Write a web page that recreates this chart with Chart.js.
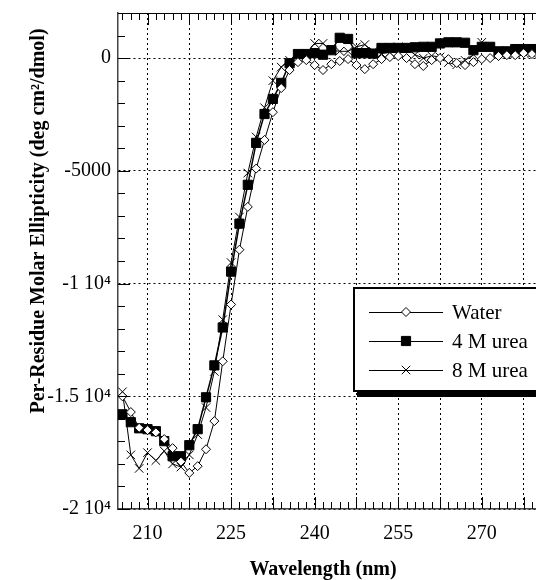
<!DOCTYPE html>
<html>
<head>
<meta charset="utf-8">
<script src="https://cdn.jsdelivr.net/npm/chart.js@4.4.0/dist/chart.umd.min.js"></script>
<style>
  html, body { margin: 0; padding: 0; background: #fff; overflow: hidden; }
  #wrap { position: absolute; left: 0; top: 0; width: 545px; height: 580px; }
</style>
</head>
<body>
<div id="wrap"><canvas id="cdChart" width="545" height="580"></canvas></div>
<script>
// CD spectra, per-residue molar ellipticity vs wavelength

const wavelengths = [
  205.5, 207, 208.5, 210, 211.5, 213, 214.5, 216, 217.5, 219,
  220.5, 222, 223.5, 225, 226.5, 228, 229.5, 231, 232.5, 234,
  235.5, 237, 238.5, 240, 241.5, 243, 244.5, 246, 247.5, 249,
  250.5, 252, 253.5, 255, 256.5, 258, 259.5, 261, 262.5, 264,
  265.5, 267, 268.5, 270, 271.5, 273, 274.5, 276, 277.5, 279
];

const waterVals = [
  -15000, -15700, -16400, -16500, -16600, -16900, -17300, -17900, -18400, -18100,
  -17350, -16100, -13450, -10930, -8500, -6600, -4900, -3630, -2400, -1330,
  -530, -180, -90, -310, -530, -270, -130, -45, -310, -490,
  -270, -45, 45, 90, 0, -270, -350, -90, 0, -45,
  -220, -310, -180, -45, 0, 90, 130, 130, 220, 180
];

const urea4Vals = [
  -15800, -16150, -16420, -16460, -16550, -16990, -17660, -17660, -17170, -16460,
  -15045, -13630, -11950, -9470, -7345, -5620, -3760, -2480, -1810, -1100,
  -230, 180, 180, 220, 150, 350, 900, 850, 220, 220,
  200, 450, 450, 450, 450, 480, 500, 500, 650, 700,
  700, 680, 350, 500, 500, 300, 300, 400, 400, 400
];

const urea8Vals = [
  -14800, -17600, -18200, -17500, -17850, -17430, -18000, -18140, -17600, -16700,
  -15500, -13900, -11600, -9070, -7050, -5100, -3500, -2200, -1000, -400,
  -100, 150, 200, 650, 650, 350, 300, 300, 500, 600,
  300, 200, 250, 500, 450, 150, 0, 100, 50, -200,
  -300, -100, 150, 700, 500, 300, 150, 200, 250, 200
];

const seriesNames = ['Water', '4 M urea', '8 M urea'];

const xGridValues = [210, 217.5, 225, 232.5, 240, 247.5, 255, 262.5, 270, 277.5];
const xTickLabels = [210, 225, 240, 255, 270];
const yGridValues = [-20000, -15000, -10000, -5000, 0];
const yTickLabels = ['-2 10\u2074', '-1.5 10\u2074', '-1 10\u2074', '-5000', '0'];

const xTitle = 'Wavelength (nm)';
const yTitle = 'Per-Residue Molar Ellipticity (deg cm\u00B2/dmol)';

const SERIF = "'Liberation Serif', 'Times New Roman', serif";

function toPoints(vals) {
  return wavelengths.map((w, i) => ({ x: w, y: vals[i] }));
}

function noScalePadding(s) {
  s.paddingTop = 0;
  s.paddingBottom = 0;
  s.paddingLeft = 0;
  s.paddingRight = 0;
}

// inward tick marks + top/right frame
const frameTicks = {
  id: 'frameTicks',
  afterDatasetsDraw(chart) {
    const { ctx, chartArea: a, scales: { x, y } } = chart;
    ctx.save();
    ctx.strokeStyle = '#000';
    ctx.lineWidth = 1;
    ctx.beginPath();
    ctx.moveTo(a.left, a.top + 0.5);
    ctx.lineTo(a.right, a.top + 0.5);
    ctx.moveTo(a.right - 0.5, a.top);
    ctx.lineTo(a.right - 0.5, a.bottom);
    // x ticks every 1.5 nm, major every 7.5
    for (let v = 205.5; v <= x.max; v += 1.5) {
      const px = Math.round(x.getPixelForValue(v)) + 0.5;
      const major = Math.abs(((v - 210) / 7.5) - Math.round((v - 210) / 7.5)) < 1e-6;
      const len = major ? 12 : 7;
      ctx.moveTo(px, a.bottom);
      ctx.lineTo(px, a.bottom - len);
      ctx.moveTo(px, a.top);
      ctx.lineTo(px, a.top + len);
    }
    // y ticks every 1000, major every 5000
    for (let v = -20000; v <= y.max; v += 1000) {
      const py = Math.round(y.getPixelForValue(v)) + 0.5;
      const len = v % 5000 === 0 ? 12 : 7;
      ctx.moveTo(a.left, py);
      ctx.lineTo(a.left + len, py);
    }
    ctx.stroke();
    ctx.restore();
  }
};

// boxed legend with drop shadow
const legendBox = {
  id: 'legendBox',
  afterDraw(chart) {
    const { ctx } = chart;
    const bx = 353, by = 287, bw = 240, bh = 105;
    ctx.save();
    ctx.fillStyle = '#000';
    ctx.fillRect(bx + 4, by + 5, bw, bh);
    ctx.fillStyle = '#fff';
    ctx.fillRect(bx, by, bw, bh);
    ctx.strokeStyle = '#000';
    ctx.lineWidth = 2;
    ctx.strokeRect(bx + 1, by + 1, bw - 2, bh - 2);

    chart.data.datasets.forEach((ds, i) => {
      const ly = 312 + i * 29;
      ctx.strokeStyle = '#000';
      ctx.lineWidth = 1;
      ctx.beginPath();
      ctx.moveTo(369, ly + 0.5);
      ctx.lineTo(443, ly + 0.5);
      ctx.stroke();
      ctx.fillStyle = ds.pointBackgroundColor;
      ctx.strokeStyle = '#000';
      ctx.lineWidth = ds.pointBorderWidth;
      Chart.helpers.drawPoint(ctx, {
        pointStyle: ds.pointStyle,
        radius: ds.pointRadius,
        borderWidth: ds.pointBorderWidth,
        rotation: 0
      }, 406, ly);
      ctx.fillStyle = '#000';
      ctx.font = '21px ' + SERIF;
      ctx.textAlign = 'left';
      ctx.textBaseline = 'alphabetic';
      ctx.fillText(seriesNames[i], 452, ly + 7);
    });
    ctx.restore();
  }
};

// axis titles
const axisTitles = {
  id: 'axisTitles',
  afterDraw(chart) {
    const { ctx } = chart;
    ctx.save();
    ctx.fillStyle = '#000';
    ctx.font = 'bold 20px ' + SERIF;
    ctx.textAlign = 'center';
    ctx.textBaseline = 'alphabetic';
    ctx.fillText(xTitle, 323, 575);
    ctx.translate(44, 221);
    ctx.rotate(-Math.PI / 2);
    ctx.fillText(yTitle, 0, 0);
    ctx.restore();
  }
};

const ctx = document.getElementById('cdChart');

new Chart(ctx, {
  type: 'line',
  data: {
    datasets: [
      {
        label: seriesNames[0],
        data: toPoints(waterVals),
        borderColor: '#000',
        borderWidth: 1,
        pointStyle: 'rectRot',
        pointRadius: 4.5,
        pointBackgroundColor: '#fff',
        pointBorderColor: '#000',
        pointBorderWidth: 1,
        tension: 0,
      },
      {
        label: seriesNames[1],
        data: toPoints(urea4Vals),
        borderColor: '#000',
        borderWidth: 1.5,
        pointStyle: 'rect',
        pointRadius: 6.5,
        pointBackgroundColor: '#000',
        pointBorderColor: '#000',
        pointBorderWidth: 1,
        tension: 0,
      },
      {
        label: seriesNames[2],
        data: toPoints(urea8Vals),
        borderColor: '#000',
        borderWidth: 1,
        pointStyle: 'crossRot',
        pointRadius: 6,
        pointBackgroundColor: '#000',
        pointBorderColor: '#000',
        pointBorderWidth: 1,
        tension: 0,
      },
    ],
  },
  options: {
    responsive: false,
    animation: false,
    layout: { padding: { left: 0, right: 1, top: 13, bottom: 0 } },
    plugins: {
      legend: { display: false },
      tooltip: { enabled: false },
    },
    scales: {
      x: {
        type: 'linear',
        min: 204.7,
        max: 280,
        afterBuildTicks: s => { s.ticks = xGridValues.map(v => ({ value: v })); },
        afterFit: s => { s.height = 71; noScalePadding(s); },
        grid: { color: '#000', lineWidth: 1, drawTicks: false },
        border: { display: true, color: '#444', width: 1.5, dash: [2, 3] },
        ticks: {
          autoSkip: false,
          maxRotation: 0,
          padding: 13,
          color: '#000',
          font: { family: SERIF, size: 20 },
          callback: v => xTickLabels.includes(v) ? String(v) : '',
        },
      },
      y: {
        type: 'linear',
        min: -20000,
        max: 2000,
        afterBuildTicks: s => { s.ticks = yGridValues.map(v => ({ value: v })); },
        afterFit: s => { s.width = 118; noScalePadding(s); },
        grid: { color: '#000', lineWidth: 1, drawTicks: false },
        border: { display: true, color: '#444', width: 1.5, dash: [2, 3] },
        ticks: {
          padding: 7,
          color: '#000',
          font: { family: SERIF, size: 20 },
          callback: v => yTickLabels[yGridValues.indexOf(v)],
        },
      },
    },
  },
  plugins: [frameTicks, legendBox, axisTitles],
});
</script>
</body>
</html>
